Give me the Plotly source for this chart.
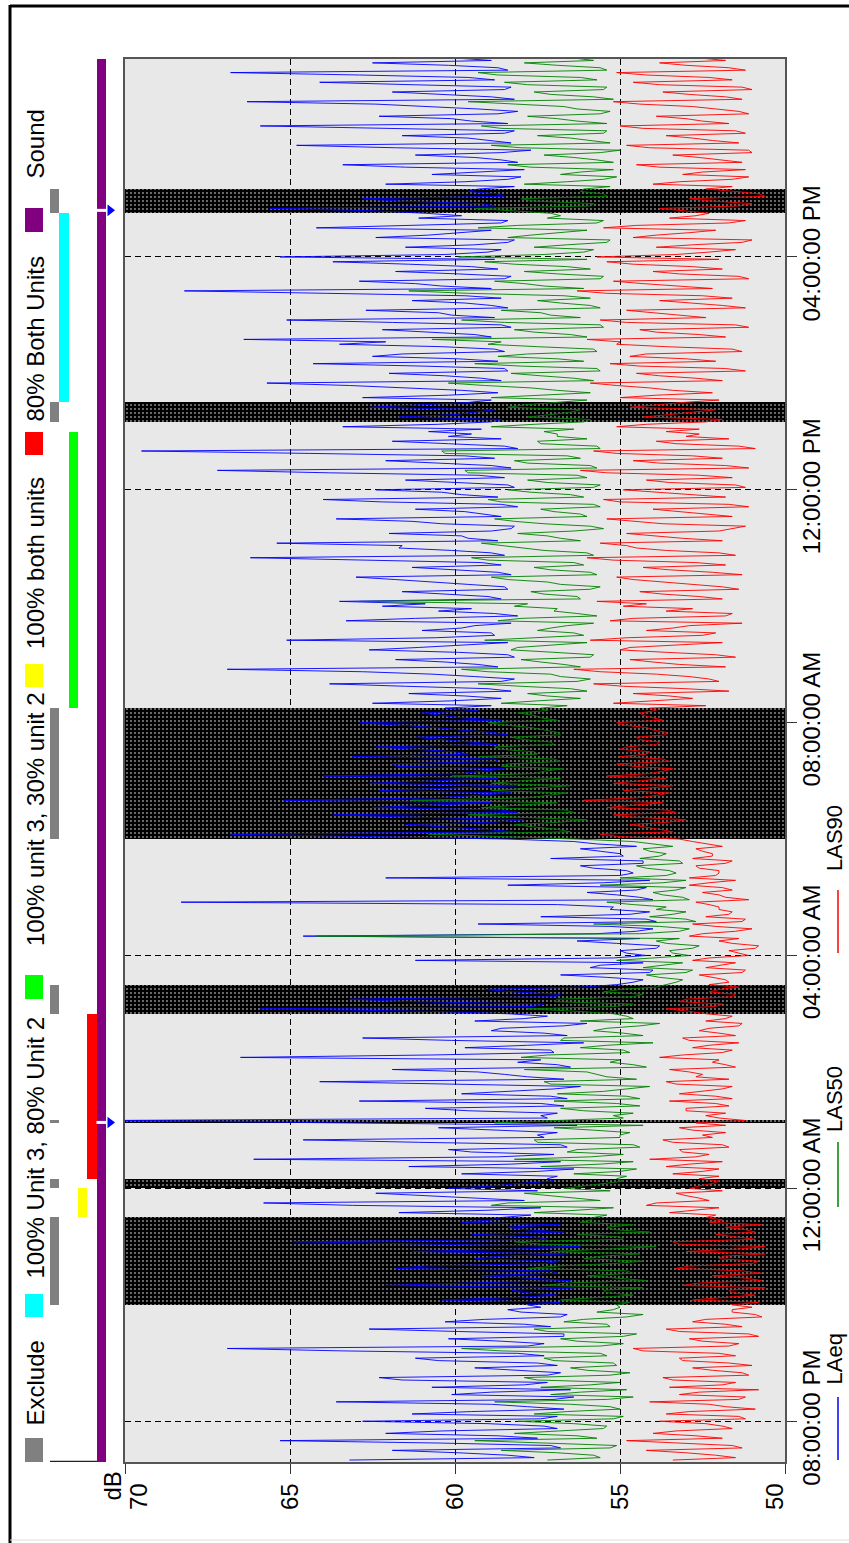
import plotly.graph_objects as go
import pandas as pd

W, H = 849, 1543
FONT = "Liberation Sans, Arial, sans-serif"

# ---------------- data ----------------
# readings on the 5-minute marks from 19:20 ...
start_a = "2000-01-01 19:20:00"
# ... and readings half-way between them (2.5 minutes later)
start_b = "2000-01-01 19:22:30"

laeq = [
    63.2, 58.4, 61.9, 57.1, 65.3, 58.7, 60.4, 57.3, 62.8, 56.9, 59.5, 57.8, 63.6, 56.4, 58.9, 60.7,
    57.2, 62.3, 56.8, 59.4, 57.5, 61.2, 58.1, 66.9, 57.3, 60.2, 56.7, 62.6, 57.9, 59.1, 56.6, 58.4,
    57.8, 60.4, 56.9, 58.3, 62.1, 56.5, 59.2, 57.1, 60.9, 56.8, 58.7, 61.3, 56.2, 64.9, 57.6, 56.7, 58.4, 59.8,
    58.6, 61.7, 57.4, 65.8, 59.3, 62.4, 60.2, 58.1,
    57.2, 59.8, 56.4, 58.3, 66.1, 57.0, 60.2, 56.8, 64.6, 57.5, 58.9, 56.3, 70.5, 57.4, 59.6, 56.7, 62.9,
    57.1, 58.4, 56.2, 64.1, 57.8, 59.3, 56.5, 58.1, 66.5, 57.0, 59.7, 56.1, 62.8, 57.3, 58.6, 56.0, 57.9,
    58.4, 65.9, 57.3, 63.2, 56.8, 59.1,
    55.1, 54.3, 56.8, 54.0, 55.6, 61.2, 54.2, 55.0, 53.8, 56.3, 64.6, 54.5, 55.3, 53.9, 57.4,
    54.1, 55.2, 68.3, 54.4, 56.0, 54.2, 55.5, 62.1, 54.6, 55.8, 54.3, 57.1, 55.0, 56.2, 55.7,
    58.4, 66.8, 59.1, 61.5, 57.9, 63.7, 58.6, 60.8, 65.2, 59.4, 62.3, 58.1, 60.9, 64.0,
    59.2, 61.8, 58.7, 63.1, 60.0, 62.4, 59.5, 61.2, 58.9, 60.6, 62.9, 59.8, 61.0,
    60.3, 62.5, 58.6, 61.4, 59.0, 63.8, 58.2, 60.7, 66.9, 59.3, 61.8, 58.4, 62.6, 59.7, 65.1, 58.8,
    61.0, 59.4, 63.3, 58.1, 60.5, 62.2, 63.5, 59.0, 61.6, 58.5, 60.9, 63.0, 58.7, 61.3, 59.2, 66.2,
    58.9, 61.7, 65.4, 59.6, 62.0, 58.3, 60.4, 63.6, 59.1, 61.2, 58.6, 64.0, 59.8, 62.4, 58.4, 61.5,
    59.3, 67.2, 58.9, 62.1, 59.7, 69.5, 58.5, 61.9, 60.2,
    60.8, 63.4, 58.9, 61.7, 59.4, 62.6,
    59.6, 62.8, 58.7, 61.4, 65.7, 59.2, 62.0, 58.5, 64.3, 59.9, 61.6, 58.8, 63.5, 66.4, 59.4, 62.2,
    58.6, 65.1, 60.1, 62.7, 58.9, 61.3, 59.7, 68.2, 60.4, 62.9, 58.3, 61.8, 59.5, 63.7, 65.3, 59.0,
    61.5, 58.4, 62.4, 59.8, 64.2, 58.6, 61.1,
    60.9, 65.6, 59.2, 62.8, 58.7,
    59.3, 62.1, 58.4, 60.7, 57.9, 63.4, 58.6, 61.2, 57.7, 64.8, 59.0, 61.6, 58.2, 65.9,
    59.5, 62.3, 58.1, 60.8, 66.3, 58.9, 61.9, 58.3, 64.1, 59.6, 66.8, 58.7, 62.5, 60.0,
]
laeq_b = [
    57.6, 59.9, 56.8, 60.4, 57.5, 62.1, 56.9, 59.0, 57.4, 61.3, 56.7, 58.9, 57.0, 60.1, 56.5, 57.9,
    61.6, 57.2, 58.3, 56.9, 60.5, 57.3, 63.4, 57.8, 58.6, 56.7, 59.9, 57.1, 60.3, 56.8, 58.0, 57.4,
    56.8, 58.2, 57.9, 56.4, 59.6, 57.8, 56.9, 61.8, 57.3, 59.4, 56.6, 58.0, 60.7, 57.2, 59.5, 57.9, 56.8, 58.9,
    57.7, 59.0, 63.1, 57.9, 60.6, 57.5, 58.8, 57.0,
    56.9, 57.5, 61.4, 56.8, 58.7, 59.5, 56.6, 61.1, 57.3, 56.9, 60.5, 63.8, 57.2, 56.9, 60.9, 57.4, 56.6,
    59.8, 57.0, 60.2, 56.7, 58.5, 61.9, 56.9, 57.4, 60.7, 57.1, 57.8, 60.1, 56.6, 58.9, 56.7, 59.4, 57.2,
    60.8, 57.6, 61.4, 57.0, 58.2, 56.1,
    54.6, 55.4, 54.1, 55.9, 54.3, 55.2, 54.8, 53.9, 55.1, 54.4, 55.7, 54.0, 59.3, 54.2, 54.7,
    55.3, 56.9, 54.0, 55.1, 54.5, 58.4, 54.1, 55.0, 54.8, 56.2, 54.3, 54.9, 55.6, 54.5, 56.4,
    62.4, 58.2, 60.3, 58.8, 61.2, 58.1, 62.5, 58.9, 60.6, 58.3, 60.1, 62.6, 58.7, 59.8,
    58.5, 61.9, 58.8, 59.6, 61.4, 58.7, 60.3, 58.4, 59.9, 61.7, 58.6, 60.4, 59.3,
    58.9, 60.1, 59.7, 58.3, 61.5, 58.6, 59.4, 62.8, 58.7, 60.3, 58.2, 59.9, 61.1, 58.4, 60.6, 58.9,
    59.8, 58.3, 61.2, 58.8, 59.5, 60.9, 58.6, 60.2, 58.4, 59.6, 61.8, 58.3, 59.9, 58.6, 62.7, 58.5,
    60.1, 61.6, 58.7, 59.8, 58.9, 58.2, 61.3, 58.6, 59.7, 58.1, 62.2, 58.7, 60.4, 58.2, 59.9, 58.5,
    63.8, 58.3, 60.5, 58.8, 64.4, 58.1, 60.2, 58.6, 59.5,
    59.2, 60.5, 58.6, 60.0, 58.8, 60.9,
    58.9, 60.2, 59.8, 63.2, 58.6, 60.3, 58.4, 61.0, 58.7, 62.5, 58.5, 60.4, 62.1, 58.9, 60.7, 58.3,
    61.9, 58.8, 60.5, 58.4, 59.7, 58.6, 63.9, 58.9, 61.2, 58.5, 59.9, 58.7, 61.4, 58.8, 60.3, 58.6,
    59.4, 58.2, 60.8, 58.9, 61.1, 58.4, 59.8,
    62.4, 58.8, 61.7, 58.5, 59.6,
    58.2, 59.7, 58.0, 59.3, 61.5, 58.1, 59.4, 58.6, 61.8, 58.3, 59.6, 58.5, 62.7, 58.4,
    60.1, 58.7, 59.3, 62.4, 58.2, 60.6, 58.5, 61.3, 58.8, 62.9, 58.4, 60.2, 58.9, 59.4,
]

las50 = [
    57.2, 55.8, 58.6, 55.1, 59.4, 56.3, 57.0, 55.4, 58.1, 54.9, 56.6, 55.3, 58.8, 54.6, 56.2, 57.4,
    55.0, 57.9, 54.7, 56.5, 55.2, 57.3, 55.6, 59.8, 54.9, 56.8, 54.5, 57.6, 55.4, 56.1, 54.3, 55.2,
    55.1, 56.8, 54.6, 55.5, 57.3, 54.2, 56.0, 54.8, 56.9, 54.3, 55.6, 57.1, 53.9, 58.2, 55.0, 54.1, 55.4, 56.2,
    55.8, 57.6, 55.2, 58.4, 56.3, 57.9, 56.7, 55.5,
    55.1, 56.4, 54.5, 55.6, 58.2, 54.9, 56.3, 54.6, 57.6, 55.0, 55.8, 54.3, 56.9, 55.2, 56.1, 54.4, 57.0,
    54.8, 55.5, 54.1, 57.3, 55.4, 56.0, 54.2, 55.3, 58.0, 54.7, 56.2, 54.0, 56.7, 54.9, 55.4, 53.8, 54.6,
    55.2, 57.8, 54.6, 56.9, 54.3, 55.0,
    53.6, 53.1, 54.2, 52.8, 53.7, 55.1, 52.9, 53.5, 52.6, 53.9, 64.2, 53.2, 53.8, 52.7, 54.1,
    53.0, 53.6, 55.4, 53.1, 54.0, 53.0, 53.7, 55.0, 53.3, 54.2, 53.1, 54.4, 53.6, 54.3, 54.0,
    56.3, 60.8, 56.9, 58.2, 56.0, 59.6, 56.7, 57.9, 61.3, 57.2, 58.9, 56.5, 58.0, 60.1,
    57.3, 58.6, 56.8, 59.3, 57.6, 58.8, 57.1, 58.3, 56.9, 57.7, 59.0, 57.4, 58.1,
    57.4, 58.6, 56.2, 57.8, 56.5, 59.3, 55.9, 57.1, 59.8, 56.7, 58.0, 55.8, 58.3, 56.9, 59.1, 56.1,
    57.5, 56.6, 58.7, 55.7, 57.0, 58.2, 62.9, 56.3, 57.7, 55.6, 57.2, 58.9, 55.9, 57.6, 56.4, 59.5,
    56.0, 57.9, 59.2, 56.8, 58.1, 55.5, 57.3, 58.8, 56.2, 57.4, 55.8, 59.0, 56.5, 58.4, 55.6, 57.8,
    56.3, 59.7, 55.9, 58.2, 56.6, 60.4, 55.7, 57.5, 56.9,
    57.3, 58.9, 56.1, 57.8, 56.5, 58.4,
    56.8, 58.9, 55.9, 57.7, 60.2, 56.4, 58.3, 55.7, 59.4, 56.9, 57.8, 55.8, 59.0, 60.7, 56.5, 58.2,
    55.6, 59.8, 57.1, 58.6, 55.9, 57.5, 56.7, 61.4, 57.3, 58.8, 55.5, 57.9, 56.6, 59.1, 59.9, 56.1,
    57.6, 55.4, 58.4, 56.8, 59.3, 55.7, 57.2,
    57.1, 59.4, 55.8, 58.0, 55.5,
    56.1, 57.9, 55.5, 56.8, 55.2, 58.4, 55.7, 57.3, 55.0, 58.9, 56.0, 57.5, 55.4, 59.2,
    56.3, 57.8, 55.3, 56.7, 59.6, 55.8, 57.6, 55.4, 58.5, 56.2, 59.3, 55.6, 57.9, 56.4,
]
las50_b = [
    55.6, 56.9, 55.3, 57.0, 55.7, 58.2, 55.5, 56.4, 55.2, 57.6, 55.0, 56.5, 55.4, 57.1, 54.8, 55.9,
    57.5, 55.3, 56.0, 55.1, 57.0, 55.4, 58.6, 55.6, 56.3, 54.9, 57.2, 55.3, 56.7, 54.8, 55.7, 55.0,
    54.7, 55.6, 55.4, 54.3, 56.6, 55.1, 54.6, 57.8, 55.2, 56.1, 54.4, 55.3, 57.4, 54.9, 56.3, 55.2, 54.6, 55.9,
    55.4, 56.3, 58.9, 55.6, 57.0, 55.3, 56.1, 54.9,
    54.8, 55.0, 57.4, 54.6, 55.9, 56.6, 54.4, 57.5, 55.0, 54.7, 57.0, 58.8, 54.9, 54.6, 56.8, 55.1, 54.4,
    56.9, 54.8, 57.1, 54.5, 55.7, 57.9, 54.6, 55.0, 57.2, 54.9, 55.4, 56.8, 54.3, 55.8, 54.4, 56.2, 54.8,
    56.3, 55.1, 57.0, 54.6, 55.5, 53.9,
    53.3, 53.8, 53.0, 54.3, 53.1, 53.9, 53.4, 52.8, 53.6, 53.2, 54.4, 52.9, 55.8, 53.0, 53.4,
    53.9, 54.6, 52.9, 53.7, 53.3, 55.6, 53.0, 53.6, 53.5, 54.5, 53.2, 53.8, 54.1, 53.4, 54.6,
    58.9, 56.5, 57.6, 56.8, 58.1, 56.4, 59.2, 56.9, 57.8, 56.6, 57.5, 58.9, 56.8, 57.6,
    56.7, 58.4, 57.0, 57.5, 58.6, 57.0, 57.9, 56.8, 57.3, 58.5, 56.9, 57.6, 57.2,
    56.6, 57.5, 57.2, 56.0, 58.0, 56.3, 56.8, 59.0, 56.2, 57.4, 55.9, 57.0, 58.1, 56.0, 57.6, 56.4,
    57.1, 55.8, 58.0, 56.3, 56.9, 57.8, 56.2, 57.3, 55.9, 56.8, 58.4, 55.7, 57.1, 56.1, 59.0, 55.8,
    57.3, 58.5, 56.2, 57.2, 56.4, 55.9, 58.2, 56.0, 57.0, 55.6, 58.6, 56.1, 57.7, 55.8, 57.2, 56.0,
    59.6, 55.7, 57.8, 56.2, 60.3, 55.6, 57.4, 56.0, 56.9,
    56.4, 57.6, 55.9, 57.1, 56.2, 57.9,
    56.0, 57.3, 56.9, 59.1, 55.8, 57.4, 55.6, 58.0, 56.1, 58.7, 55.7, 57.5, 58.6, 56.0, 57.6, 55.5,
    58.5, 56.2, 57.4, 55.6, 56.8, 55.9, 59.6, 56.1, 57.9, 55.6, 56.9, 55.9, 58.2, 56.0, 57.3, 55.8,
    56.6, 55.3, 57.7, 56.0, 58.1, 55.5, 56.8,
    58.3, 55.9, 57.6, 55.4, 56.2,
    55.3, 56.6, 55.1, 56.2, 57.7, 55.2, 56.4, 55.6, 58.0, 55.3, 56.5, 55.5, 58.6, 55.4,
    56.9, 55.6, 56.3, 58.4, 55.2, 57.1, 55.5, 57.8, 55.7, 58.7, 55.4, 56.9, 55.8, 56.5,
]

las90 = [
    53.4, 52.1, 54.2, 51.6, 54.8, 52.7, 53.3, 51.9, 53.8, 51.4, 52.9, 51.8, 54.1, 51.2, 52.6, 53.5,
    51.5, 53.7, 51.3, 52.8, 51.7, 53.2, 52.0, 54.6, 51.4, 52.9, 51.1, 53.6, 51.8, 52.4, 50.9, 51.6,
    51.6, 52.8, 50.9, 51.7, 53.1, 50.7, 52.2, 51.3, 52.9, 50.8, 51.9, 53.0, 50.6, 53.4, 51.5, 50.9, 51.8, 52.3,
    52.4, 53.5, 52.0, 53.9, 52.6, 53.3, 52.9, 52.2,
    52.6, 53.4, 52.0, 52.9, 54.1, 52.3, 53.2, 51.9, 53.7, 52.5, 52.8, 51.8, 51.2, 52.4, 53.0, 51.7, 53.5,
    52.1, 52.6, 51.6, 53.6, 52.7, 52.9, 51.5, 52.2, 53.8, 51.9, 52.8, 51.4, 53.1, 52.0, 52.3, 51.3, 51.8,
    52.4, 53.6, 51.9, 53.0, 51.5, 52.0,
    52.3, 51.8, 52.6, 51.2, 51.9, 52.8, 51.1, 51.7, 50.8, 52.0, 52.9, 51.5, 52.1, 51.3, 52.4,
    51.6, 52.0, 52.7, 51.8, 52.5, 51.9, 52.3, 52.9, 52.0, 52.6, 51.8, 52.8, 52.2, 52.7, 52.4,
    53.2, 55.6, 53.8, 54.7, 53.0, 55.2, 53.6, 54.4, 56.1, 53.9, 54.9, 53.4, 54.3, 55.4,
    53.7, 54.6, 53.5, 55.0, 54.1, 54.8, 53.8, 54.5, 53.6, 54.2, 55.1, 54.0, 54.4,
    54.1, 55.2, 52.8, 54.6, 53.0, 55.8, 52.3, 53.9, 56.4, 53.2, 54.7, 52.1, 55.0, 53.4, 55.9, 52.5,
    54.2, 52.9, 55.3, 51.8, 53.6, 54.9, 55.7, 52.6, 54.4, 51.9, 53.8, 55.1, 52.2, 54.3, 52.7, 56.0,
    52.0, 54.5, 55.6, 53.1, 54.8, 51.6, 53.7, 55.4, 52.4, 54.0, 51.7, 55.5, 52.9, 54.9, 51.5, 54.2,
    52.6, 56.2, 51.8, 54.6, 52.8, 55.8, 51.4, 53.9, 53.0,
    53.6, 55.1, 52.4, 54.3, 52.8, 54.7,
    53.1, 55.0, 52.2, 54.1, 55.9, 52.7, 54.5, 51.8, 55.3, 53.0, 54.2, 51.6, 55.1, 56.0, 52.6, 54.4,
    51.5, 55.6, 53.3, 54.8, 51.9, 53.8, 52.5, 56.3, 53.4, 55.2, 51.4, 54.0, 52.8, 55.4, 55.7, 52.3,
    53.9, 51.3, 54.6, 52.9, 55.5, 51.7, 53.5,
    52.3, 53.8, 51.0, 52.9, 50.8,
    52.4, 54.0, 51.6, 53.1, 51.2, 54.5, 51.9, 53.4, 51.1, 54.8, 52.2, 53.6, 51.5, 55.0,
    52.5, 53.9, 51.4, 52.8, 55.2, 51.8, 53.7, 51.3, 54.6, 52.3, 55.1, 51.7, 53.8, 52.6,
]
las90_b = [
    51.5, 53.0, 51.3, 53.3, 51.9, 54.0, 51.6, 52.4, 51.2, 53.6, 50.9, 52.3, 51.4, 53.2, 50.8, 51.9,
    53.4, 51.1, 52.2, 51.0, 53.1, 51.5, 54.3, 51.7, 52.5, 50.8, 53.2, 51.3, 52.8, 50.7, 51.6, 51.0,
    50.8, 51.9, 51.6, 50.6, 52.6, 51.2, 50.7, 53.3, 51.0, 52.0, 50.6, 51.4, 53.2, 50.9, 52.1, 51.2, 50.7, 51.9,
    52.1, 52.8, 54.2, 52.3, 53.0, 51.9, 52.6, 52.0,
    52.0, 52.5, 53.6, 51.9, 52.7, 53.1, 51.7, 53.4, 52.2, 51.8, 53.2, 52.7, 52.0, 51.8, 53.0, 52.1, 51.6,
    53.2, 51.9, 53.3, 51.7, 52.5, 53.5, 51.8, 52.0, 53.1, 51.6, 52.3, 52.9, 51.5, 52.6, 51.4, 52.4, 51.6,
    52.9, 52.1, 53.2, 51.6, 52.3, 51.4,
    51.7, 52.2, 51.3, 52.4, 51.5, 52.3, 51.4, 50.9, 51.6, 51.4, 52.5, 51.0, 52.8, 51.2, 51.7,
    52.0, 52.3, 51.1, 52.0, 51.6, 52.9, 51.5, 52.1, 52.0, 52.7, 51.6, 52.2, 52.5, 51.9, 52.8,
    55.0, 53.4, 54.3, 53.5, 54.6, 53.3, 55.4, 53.7, 54.5, 53.5, 54.2, 55.2, 53.6, 54.1,
    53.4, 55.1, 53.7, 54.2, 55.0, 53.9, 54.4, 53.6, 54.0, 54.9, 53.7, 54.3, 53.9,
    52.4, 53.8, 53.5, 51.7, 54.9, 52.0, 52.9, 55.6, 51.8, 54.0, 51.5, 53.6, 54.7, 51.9, 54.8, 52.1,
    53.4, 51.3, 54.6, 51.6, 52.8, 54.2, 51.9, 53.7, 51.4, 52.9, 54.6, 51.3, 53.5, 51.8, 55.2, 51.5,
    53.6, 54.8, 51.9, 53.9, 52.0, 51.2, 54.7, 51.6, 53.2, 51.1, 55.0, 51.8, 54.1, 51.2, 53.5, 51.6,
    55.4, 51.1, 53.8, 51.9, 55.1, 50.9, 53.3, 51.7, 52.6,
    52.6, 54.2, 51.9, 53.5, 52.1, 53.9,
    52.0, 53.9, 53.4, 55.1, 51.9, 53.8, 51.2, 54.4, 52.1, 54.7, 51.3, 53.6, 55.0, 51.8, 53.9, 51.1,
    54.8, 52.4, 54.0, 51.2, 52.9, 51.6, 55.4, 52.2, 54.3, 51.1, 53.2, 51.9, 54.6, 52.0, 53.3, 51.5,
    52.8, 51.0, 53.9, 52.1, 54.5, 51.2, 52.7,
    53.1, 51.4, 52.2, 50.6, 51.5,
    51.6, 53.2, 51.1, 52.5, 53.8, 51.3, 52.6, 51.0, 54.1, 51.4, 52.8, 51.2, 54.3, 51.7,
    53.0, 51.1, 52.2, 54.4, 51.3, 52.9, 51.0, 53.8, 51.6, 54.2, 51.2, 53.0, 51.8, 52.4,
]

series_names = ["LAeq", "LAS50", "LAS90"]
series_colors = ["#0000FF", "#008000", "#FF0000"]

# excluded periods
ex_start = ["2000-01-01 22:00", "2000-01-02 00:00", "2000-01-02 01:07", "2000-01-02 03:00",
            "2000-01-02 06:00", "2000-01-02 13:10", "2000-01-02 16:45"]
ex_end = ["2000-01-01 23:30", "2000-01-02 00:10", "2000-01-02 01:10", "2000-01-02 03:30",
          "2000-01-02 08:15", "2000-01-02 13:30", "2000-01-02 17:10"]

mode_names = ["Exclude", "100% Unit 3, 80% Unit 2", "100% unit 3, 30% unit 2",
              "100% both units", "80% Both Units", "Sound"]
mode_colors = ["#808080", "#00FFFF", "#00FF00", "#FFFF00", "#FF0000", "#800080"]
mode_periods = [
    list(zip(ex_start, ex_end)),
    [("2000-01-02 13:30", "2000-01-02 16:45")],
    [("2000-01-02 08:15", "2000-01-02 13:00")],
    [("2000-01-01 23:30", "2000-01-02 00:00")],
    [("2000-01-02 00:10", "2000-01-02 03:00")],
    [("2000-01-01 19:18", "2000-01-02 19:24")],
]
event_times = ["2000-01-02 01:08", "2000-01-02 16:48"]

db_ticks = [70, 65, 60, 55, 50]
time_range = ["2000-01-01 19:18", "2000-01-02 19:24"]
tick0_time = "2000-01-01 20:00"

# ---------------- layout helpers (page pixel -> paper) ----------------
def px_x(x):
    return x / W


def px_y(y):
    return 1 - y / H


PLOT_L, PLOT_R, PLOT_T, PLOT_B = 125, 785, 59, 1462
STAT_L = 50


def merged(a_vals, b_vals):
    sa = pd.Series(a_vals, index=pd.date_range(start_a, periods=len(a_vals), freq="5min"))
    sb = pd.Series(b_vals, index=pd.date_range(start_b, periods=len(b_vals), freq="5min"))
    return pd.concat([sa, sb]).sort_index()


def dur_ms(s, e):
    return (pd.Timestamp(e) - pd.Timestamp(s)).total_seconds() * 1000.0


fig = go.Figure()

n_lanes = len(mode_names)
lane_px = 56.0 / n_lanes

# status panel background + frame
fig.add_trace(go.Bar(
    x=[(n_lanes + 1) / 2], y=[dur_ms(*time_range)], base=[time_range[0]], width=n_lanes,
    marker=dict(color="white", line=dict(color="#222222", width=1.2)),
    xaxis="x2", yaxis="y2", showlegend=False, hoverinfo="skip",
))

# exclusion blocks in the main plot
db_mid = (db_ticks[0] + db_ticks[-1]) / 2
db_span = abs(db_ticks[0] - db_ticks[-1])
fig.add_trace(go.Bar(
    x=[db_mid] * len(ex_start),
    y=[dur_ms(s, e) for s, e in zip(ex_start, ex_end)],
    base=ex_start, width=db_span, orientation="v",
    marker=dict(color="#000000", line=dict(width=0),
                pattern=dict(shape=".", fgcolor="#909090", bgcolor="#000000",
                             size=4, solidity=0.18, fillmode="replace")),
    xaxis="x", yaxis="y", showlegend=False, hoverinfo="skip",
))

# series lines
for (va, vb), name, col in zip([(laeq, laeq_b), (las50, las50_b), (las90, las90_b)],
                               series_names, series_colors):
    s = merged(va, vb)
    fig.add_trace(go.Scatter(
        x=s.values, y=s.index, mode="lines", name=name,
        line=dict(color=col, width=0.9), xaxis="x", yaxis="y", showlegend=False,
    ))

# status bars
for lane, (name, col, periods) in enumerate(zip(mode_names, mode_colors, mode_periods), start=1):
    fig.add_trace(go.Bar(
        x=[lane] * len(periods),
        y=[dur_ms(s, e) for s, e in periods],
        base=[s for s, _ in periods], width=1.0, orientation="v",
        marker=dict(color=col, line=dict(width=0)),
        xaxis="x2", yaxis="y2", showlegend=False, hoverinfo="skip", name=name,
    ))

# event markers
fig.add_trace(go.Scatter(
    x=[n_lanes] * len(event_times), y=event_times, mode="markers",
    marker=dict(symbol="line-ew", size=7, line=dict(color="white", width=3)),
    xaxis="x2", yaxis="y2", showlegend=False, hoverinfo="skip", cliponaxis=False,
))
fig.add_trace(go.Scatter(
    x=[n_lanes + 0.93] * len(event_times), y=event_times, mode="markers",
    marker=dict(symbol="triangle-right", size=10, color="#0000FF", line=dict(width=0)),
    xaxis="x2", yaxis="y2", showlegend=False, hoverinfo="skip", cliponaxis=False,
))

ydom = [px_y(PLOT_B), px_y(PLOT_T)]
grid_dash = "6px,4px"
db_per_px = db_span / (PLOT_R - PLOT_L)
label_shift_px = [14, 0, 0, 0, -10]   # end labels pulled inside the axis
db_label_pos = [v - s * db_per_px for v, s in zip(db_ticks, label_shift_px)]

fig.update_layout(
    width=W, height=H, autosize=False,
    margin=dict(l=0, r=0, t=0, b=0, pad=0),
    paper_bgcolor="white", plot_bgcolor="rgba(0,0,0,0)",
    barmode="overlay", bargap=0,
    font=dict(family=FONT, size=24, color="black"),
    xaxis=dict(
        domain=[px_x(PLOT_L), px_x(PLOT_R)], range=[db_ticks[0], db_ticks[-1]], anchor="y",
        tickmode="array", tickvals=db_label_pos, ticktext=[str(v) for v in db_ticks],
        ticks="outside", ticklen=10, tickcolor="rgba(0,0,0,0)", tickangle=-90,
        tickfont=dict(size=24, color="black"), automargin=False,
        showline=True, mirror=True, linecolor="#555555", linewidth=1.5,
        showgrid=False, zeroline=False,
        minor=dict(tickmode="array", tickvals=db_ticks, ticks="outside", ticklen=10,
                   tickcolor="#333333", showgrid=True, gridcolor="#000000", gridwidth=1,
                   griddash=grid_dash),
    ),
    yaxis=dict(
        domain=ydom, type="date", range=time_range, side="right", anchor="x",
        tickformat="%I:%M:%S %p", tick0=tick0_time, dtick=4 * 3600 * 1000,
        ticks="outside", ticklen=10, tickcolor="#333333", tickangle=-90,
        tickfont=dict(size=24, color="black"), automargin=False, ticklabelstandoff=-6,
        showline=True, mirror=True, linecolor="#555555", linewidth=1.5,
        showgrid=True, gridcolor="#000000", gridwidth=1, griddash=grid_dash, zeroline=False,
    ),
    xaxis2=dict(domain=[px_x(STAT_L), px_x(STAT_L + lane_px * (n_lanes + 1))],
                range=[0.5, n_lanes + 1.5], anchor="y2", automargin=False,
                visible=False, showgrid=False, zeroline=False),
    yaxis2=dict(domain=ydom, type="date", matches="y", anchor="x2", automargin=False,
                visible=False, showgrid=False, zeroline=False),
)

shapes = [
    # main plot background (below grid)
    dict(type="rect", xref="x domain", yref="y domain", x0=0, x1=1, y0=0, y1=1,
         fillcolor="#E8E8E8", line=dict(width=0), layer="below"),
    # outer frame
    dict(type="line", xref="paper", yref="paper", x0=px_x(10), x1=1, y0=px_y(6), y1=px_y(6),
         line=dict(color="black", width=3)),
    dict(type="line", xref="paper", yref="paper", x0=px_x(10), x1=px_x(10), y0=px_y(5), y1=0,
         line=dict(color="black", width=3)),
    dict(type="line", xref="paper", yref="paper", x0=px_x(10), x1=1, y0=px_y(1540), y1=px_y(1540),
         line=dict(color="#dddddd", width=1)),
]

annotations = [
    dict(text="dB", x=px_x(112), y=px_y(1503), xref="paper", yref="paper",
         xanchor="center", yanchor="bottom", textangle=-90, showarrow=False,
         font=dict(size=24, color="black")),
]

# top legend (operating modes), reading bottom to top
sq_bounds = [(1438, 1462), (1294, 1317), (975, 999), (664, 687), (432, 455), (208, 232)]
txt_bottom = [1428, 1281, 948, 651, 424, 181]
for name, col, (y0, y1), tb in zip(mode_names, mode_colors, sq_bounds, txt_bottom):
    shapes.append(dict(type="rect", xref="paper", yref="paper",
                       x0=px_x(25), x1=px_x(43), y0=px_y(y1), y1=px_y(y0),
                       fillcolor=col, line=dict(width=0)))
    annotations.append(dict(text=name, x=px_x(35), y=px_y(tb), xref="paper", yref="paper",
                            xanchor="center", yanchor="bottom", textangle=-90, showarrow=False,
                            font=dict(size=24, color="black")))

# bottom legend (series)
line_bounds = [(1397, 1460), (1142, 1207), (890, 953)]
name_bottom = [1386, 1133, 872]
for name, col, (y0, y1), tb in zip(series_names, series_colors, line_bounds, name_bottom):
    shapes.append(dict(type="line", xref="paper", yref="paper",
                       x0=px_x(838), x1=px_x(838), y0=px_y(y1), y1=px_y(y0),
                       line=dict(color=col, width=1.5)))
    annotations.append(dict(text=name, x=px_x(834), y=px_y(tb), xref="paper", yref="paper",
                            xanchor="center", yanchor="bottom", textangle=-90, showarrow=False,
                            borderpad=0, font=dict(size=22, color="black")))

fig.update_layout(shapes=shapes, annotations=annotations)

# remove the default page margin so the figure sits at the window's top-left corner
fig.write_html("out.html",
               config={"displayModeBar": False},
               post_script="document.body.style.margin='0';document.body.style.overflow='hidden';")
